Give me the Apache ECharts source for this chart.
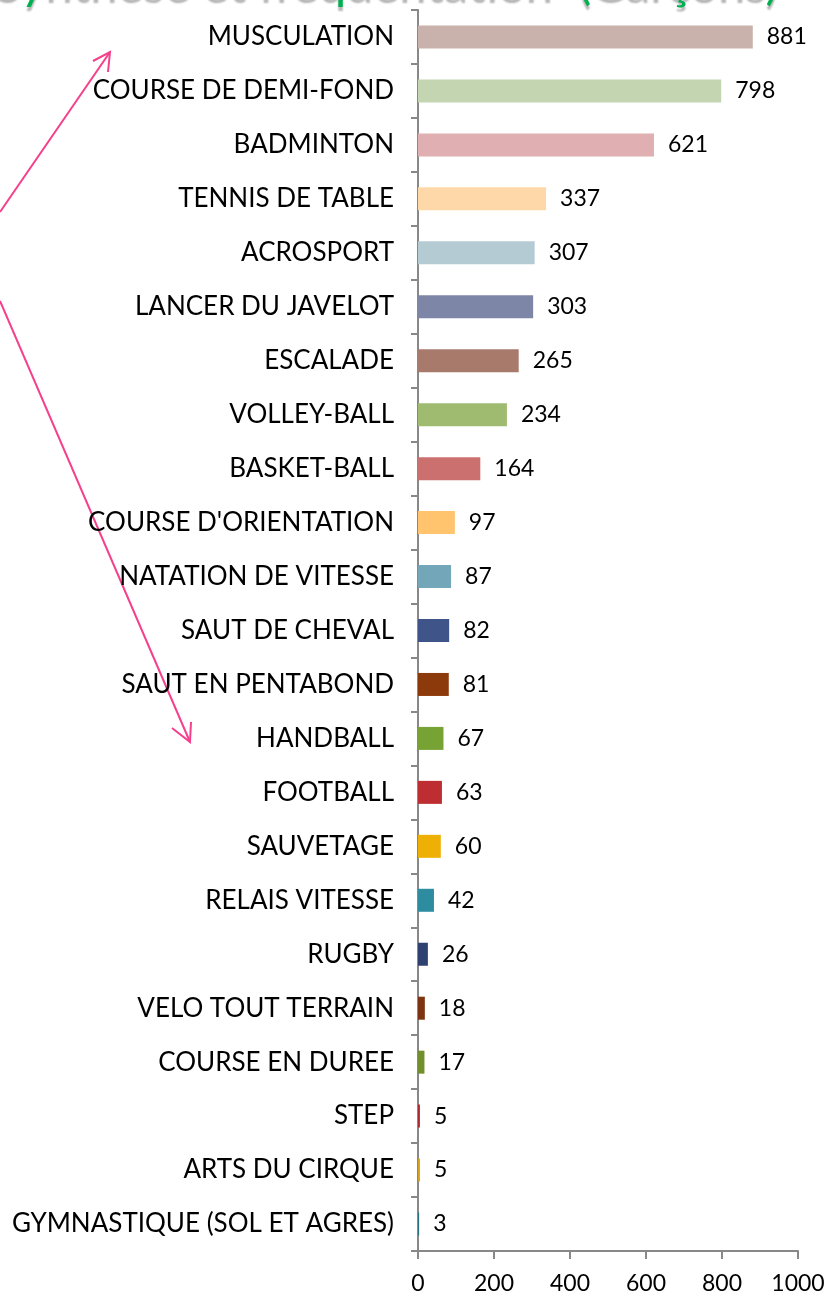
<!DOCTYPE html>
<html>
<head>
<meta charset="utf-8">
<script src="https://cdn.jsdelivr.net/npm/echarts@6/dist/echarts.min.js"></script>
<style>
  html, body { margin: 0; padding: 0; background: #fff; }
  #chart { width: 830px; height: 1298px; }
</style>
</head>
<body>
<div id="chart"></div>
<script>
const categories = ['MUSCULATION', 'COURSE DE DEMI-FOND', 'BADMINTON', 'TENNIS DE TABLE', 'ACROSPORT',
  'LANCER DU JAVELOT', 'ESCALADE', 'VOLLEY-BALL', 'BASKET-BALL', "COURSE D'ORIENTATION",
  'NATATION DE VITESSE', 'SAUT DE CHEVAL', 'SAUT EN PENTABOND', 'HANDBALL', 'FOOTBALL',
  'SAUVETAGE', 'RELAIS VITESSE', 'RUGBY', 'VELO TOUT TERRAIN', 'COURSE EN DUREE',
  'STEP', 'ARTS DU CIRQUE', 'GYMNASTIQUE (SOL ET AGRES)'];
const values = [881, 798, 621, 337, 307, 303, 265, 234, 164, 97, 87, 82, 81, 67, 63, 60, 42, 26, 18, 17, 5, 5, 3];
const barColors = ['#C9B2AC', '#C3D5B1', '#E0AFB1', '#FFD8A9', '#B4CBD4', '#7E86A8', '#A87A6B', '#9FBB70',
  '#CC6F6F', '#FFC46D', '#74A6B9', '#3F5488', '#8C3A0B', '#77A234', '#BE2D31', '#EEB004',
  '#2E8CA0', '#2F4170', '#7D3511', '#71902D', '#A92A2E', '#D4A017', '#2C7080'];
const xTicks = [0, 200, 400, 600, 800, 1000];

const chart = echarts.init(document.getElementById('chart'));
const pink = '#F5408C';

const option = {
  animation: false,
  textStyle: { fontFamily: 'Lato' },
  title: {
    text: 'Synthèse et fréquentation  (Garçons)',
    left: -10,
    top: -46,
    textStyle: {
      color: '#00B050',
      fontSize: 49,
      fontWeight: 'normal',
      fontFamily: 'Lato',
      textShadowColor: 'rgba(0,0,0,0.3)',
      textShadowBlur: 2,
      textShadowOffsetX: 0,
      textShadowOffsetY: 4
    }
  },
  grid: { left: 418, right: 32, top: 10, bottom: 47, containLabel: false },
  xAxis: {
    type: 'value',
    min: xTicks[0],
    max: xTicks[xTicks.length - 1],
    interval: 200,
    axisLine: { show: true, lineStyle: { color: '#888', width: 2 } },
    axisTick: { show: true, length: 8, lineStyle: { color: '#888', width: 2 } },
    splitLine: { show: false },
    axisLabel: { color: '#000', fontSize: 23, margin: 21, fontFamily: 'Lato', formatter: (v) => String(v) }
  },
  yAxis: {
    type: 'category',
    inverse: true,
    data: categories,
    axisLine: { show: true, lineStyle: { color: '#888', width: 2 } },
    axisTick: { show: true, length: 7, lineStyle: { color: '#888', width: 2 } },
    axisLabel: { color: '#000', fontSize: 26, margin: 24, fontFamily: 'Lato' }
  },
  series: [{
    type: 'bar',
    data: values.map((v, i) => ({ value: v, itemStyle: { color: barColors[i] } })),
    barWidth: 23,
    label: {
      show: true,
      position: 'right',
      distance: 14,
      color: '#000',
      fontSize: 23,
      fontFamily: 'Lato'
    }
  }],
  graphic: [
    { type: 'line', shape: { x1: 0, y1: 212, x2: 110, y2: 52 }, style: { stroke: pink, lineWidth: 2 } },
    { type: 'polyline', shape: { points: [[93, 61], [110, 52], [108, 72]] }, style: { stroke: pink, lineWidth: 2, fill: null } },
    { type: 'line', shape: { x1: 0, y1: 301, x2: 190, y2: 742 }, style: { stroke: pink, lineWidth: 2 } },
    { type: 'polyline', shape: { points: [[172, 728], [190, 742], [191, 722]] }, style: { stroke: pink, lineWidth: 2, fill: null } }
  ]
};

chart.setOption(option);
</script>
</body>
</html>
